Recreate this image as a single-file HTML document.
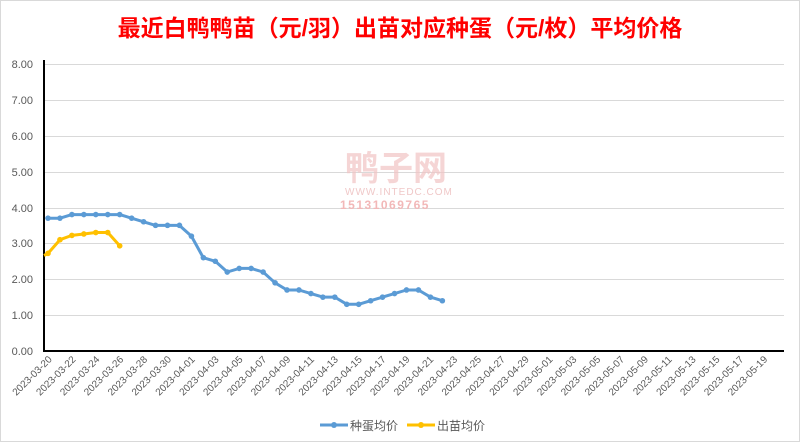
<!DOCTYPE html>
<html><head><meta charset="utf-8"><style>
html,body{margin:0;padding:0;background:#fff}
svg{display:block}
text{font-family:"Liberation Sans","Noto Sans CJK SC",sans-serif}
</style></head><body>
<svg width="800" height="442" xmlns="http://www.w3.org/2000/svg">
<rect x="0.5" y="0.5" width="799" height="441" fill="#fff" stroke="#d9d9d9"/>
<text x="400" y="36" text-anchor="middle" font-size="23" font-weight="bold" fill="#ff0000">最近白鸭鸭苗（元/羽）出苗对应种蛋（元/枚）平均价格</text>
<g stroke="#d9d9d9" stroke-width="1">
<line x1="44" x2="784" y1="64.5" y2="64.5"/>
<line x1="44" x2="784" y1="100.5" y2="100.5"/>
<line x1="44" x2="784" y1="136.5" y2="136.5"/>
<line x1="44" x2="784" y1="172.5" y2="172.5"/>
<line x1="44" x2="784" y1="208.5" y2="208.5"/>
<line x1="44" x2="784" y1="243.5" y2="243.5"/>
<line x1="44" x2="784" y1="279.5" y2="279.5"/>
<line x1="44" x2="784" y1="315.5" y2="315.5"/>
</g>
<g font-size="11" fill="#595959" text-anchor="end">
<text x="33" y="68">8.00</text><text x="33" y="104">7.00</text><text x="33" y="140">6.00</text>
<text x="33" y="176">5.00</text><text x="33" y="212">4.00</text><text x="33" y="247">3.00</text>
<text x="33" y="283">2.00</text><text x="33" y="319">1.00</text><text x="33" y="355">0.00</text>
</g>
<text x="345" y="180" font-size="34" font-weight="bold" fill="#f2c4c4" opacity="0.7">鸭子网</text>
<text x="345" y="195" font-size="10" fill="#f0c8c8" letter-spacing="1">WWW.INTEDC.COM</text>
<text x="340" y="209" font-size="12" font-weight="bold" fill="#f2b8b8" letter-spacing="1.5">15131069765</text>
<line x1="44" y1="60" x2="44" y2="352" stroke="#000" stroke-width="2"/>
<line x1="43" y1="351" x2="784" y2="351" stroke="#000" stroke-width="2"/>
<g id="labels" font-size="10" fill="#595959"></g>
<polyline id="blue" fill="none" stroke="#5b9bd5" stroke-width="3" stroke-linejoin="round"/>
<polyline id="yel" fill="none" stroke="#ffc000" stroke-width="3" stroke-linejoin="round"/>
<g id="mk"></g>
<line x1="320" y1="425" x2="348" y2="425" stroke="#5b9bd5" stroke-width="3"/>
<circle cx="334" cy="425" r="3" fill="#5b9bd5"/>
<text x="350" y="430" font-size="12" fill="#595959">种蛋均价</text>
<line x1="407" y1="425" x2="435" y2="425" stroke="#ffc000" stroke-width="3"/>
<circle cx="421" cy="425" r="3" fill="#ffc000"/>
<text x="437" y="430" font-size="12" fill="#595959">出苗均价</text>
</svg>
<script>
var ns="http://www.w3.org/2000/svg";
var X=function(i){return 48+11.95*i},Y=function(v){return 351-v*35.9};
var b=[3.7,3.7,3.8,3.8,3.8,3.8,3.8,3.7,3.6,3.5,3.5,3.5,3.2,2.6,2.5,2.2,2.3,2.3,2.2,1.9,1.7,1.7,1.6,1.5,1.5,1.3,1.3,1.4,1.5,1.6,1.7,1.7,1.5,1.4];
var y=[2.72,3.1,3.22,3.26,3.3,3.3,2.93];
function pl(id,d,c){var p=d.map(function(v,i){return X(i).toFixed(1)+","+Y(v).toFixed(1)}).join(" ");
if(id=="yel")p="44,"+Y(2.66).toFixed(1)+" "+p;
document.getElementById(id).setAttribute("points",p);
var g=document.getElementById("mk");d.forEach(function(v,i){var e=document.createElementNS(ns,"circle");e.setAttribute("cx",X(i));e.setAttribute("cy",Y(v));e.setAttribute("r",2.8);e.setAttribute("fill",c);g.appendChild(e);});}
pl("blue",b,"#5b9bd5");pl("yel",y,"#ffc000");
var L=document.getElementById("labels");var d=new Date(2023,2,20);
for(var k=0;k<31;k++){var dd=new Date(d.getTime()+k*2*86400000);
var s="2023-"+("0"+(dd.getMonth()+1)).slice(-2)+"-"+("0"+dd.getDate()).slice(-2);
var t=document.createElementNS(ns,"text");var x=52.5+k*23.85,yy=360;
t.setAttribute("x",x);t.setAttribute("y",yy);t.setAttribute("text-anchor","end");
t.setAttribute("transform","rotate(-45 "+x+" "+yy+")");t.textContent=s;L.appendChild(t);}
</script>
</body></html>
